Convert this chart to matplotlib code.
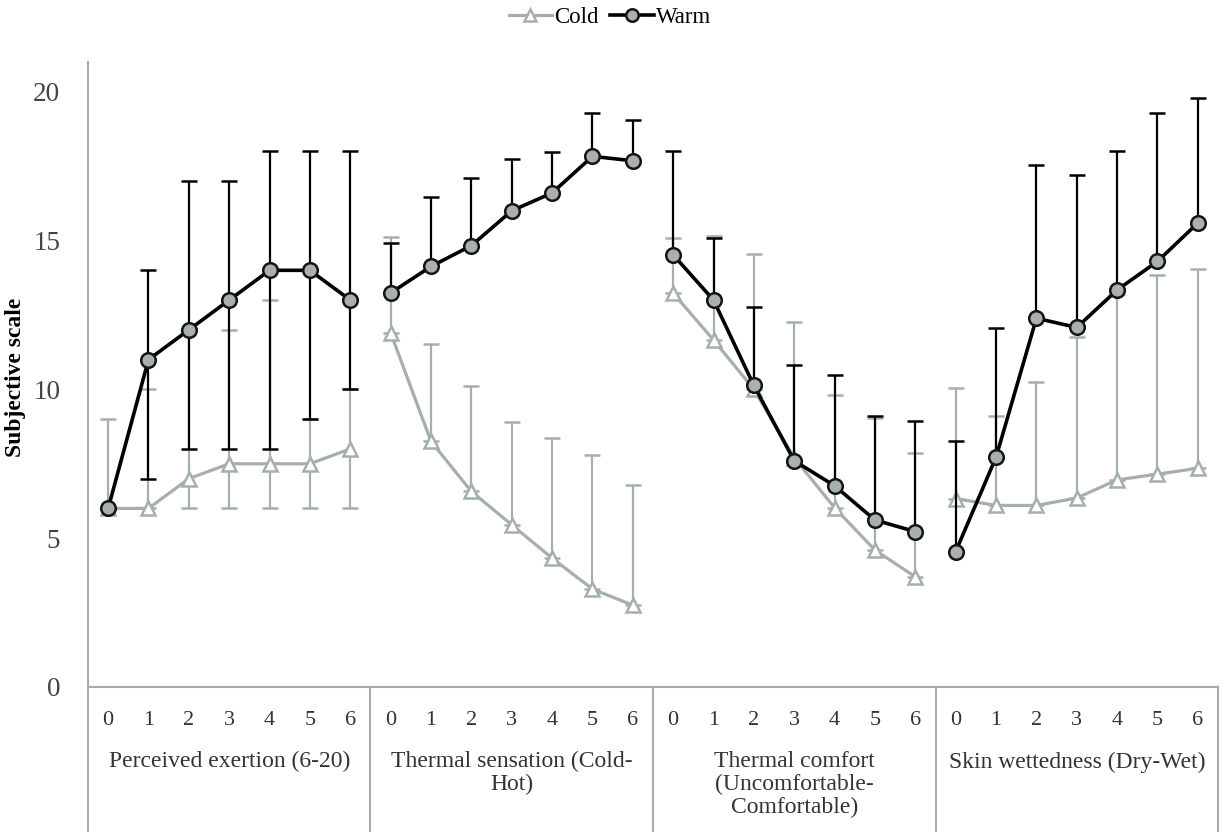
import numpy as np
import matplotlib
matplotlib.use("Agg")
import matplotlib.pyplot as plt
import matplotlib.transforms as mtransforms
from matplotlib.lines import Line2D

plt.rcParams['font.family'] = ['Liberation Serif', 'DejaVu Serif']

time_labels = ["0", "1", "2", "3", "4", "5", "6"]
group_labels = ["Perceived exertion (6-20)",
                "Thermal sensation (Cold-\nHot)",
                "Thermal comfort\n(Uncomfortable-\nComfortable)",
                "Skin wettedness (Dry-Wet)"]

# Perceived exertion
pe_cold = [6, 6, 7, 7.5, 7.5, 7.5, 8]
pe_cold_lo = [6, 6, 6, 6, 6, 6, 6]
pe_cold_hi = [9, 10, 12, 12, 13, 9, 10]
pe_warm = [6, 11, 12, 13, 14, 14, 13]
pe_warm_lo = [6, 7, 8, 8, 8, 9, 10]
pe_warm_hi = [6, 14, 17, 17, 18, 18, 18]

# Thermal sensation
ts_cold = [11.9, 8.25, 6.57, 5.45, 4.33, 3.29, 2.75]
ts_cold_hi = [15.12, 11.53, 10.1, 8.92, 8.38, 7.8, 6.79]
ts_warm = [13.24, 14.13, 14.83, 16.0, 16.6, 17.83, 17.68]
ts_warm_hi = [14.91, 16.45, 17.1, 17.75, 17.97, 19.28, 19.06]

# Thermal comfort
tc_cold = [13.23, 11.66, 10.0, 7.7, 6.02, 4.6, 3.7]
tc_cold_hi = [15.1, 15.15, 14.54, 12.25, 9.8, 9.05, 7.87]
tc_warm = [14.52, 13.0, 10.13, 7.6, 6.76, 5.61, 5.22]
tc_warm_hi = [18.0, 15.1, 12.76, 10.82, 10.49, 9.09, 8.95]

# Skin wettedness
sw_cold = [6.33, 6.1, 6.1, 6.35, 6.96, 7.15, 7.35]
sw_cold_hi = [10.04, 9.11, 10.26, 11.76, 13.2, 13.85, 14.05]
sw_warm = [4.55, 7.72, 12.39, 12.08, 13.34, 14.3, 15.59]
sw_warm_hi = [8.25, 12.06, 17.55, 17.19, 18.02, 19.3, 19.79]

cold_groups = [(pe_cold, pe_cold_lo, pe_cold_hi), (ts_cold, None, ts_cold_hi),
               (tc_cold, None, tc_cold_hi), (sw_cold, None, sw_cold_hi)]
warm_groups = [(pe_warm, pe_warm_lo, pe_warm_hi), (ts_warm, None, ts_warm_hi),
               (tc_warm, None, tc_warm_hi), (sw_warm, None, sw_warm_hi)]

GRAY = '#A5AFAF'
AXGRAY = '#A3ADAD'
FILL = '#A9B1B0'

fig = plt.figure(figsize=(12.25, 8.32), dpi=100)
ax = fig.add_axes([0.0718, 0.1743, 0.9225, 0.7512])

n = len(time_labels)
for g in range(4):
    x = np.arange(n) + g * n
    for (vals, lo, hi), color, mk, lw, elw, z, mfc, mec, ms in [
        (cold_groups[g], GRAY, '^', 2.3, 1.6, 2, 'white', GRAY, 10.5),
        (warm_groups[g], 'black', 'o', 2.6, 1.6, 3, FILL, '#151515', 10.5)]:
        v = np.array(vals, dtype=float)
        hi_err = np.array(hi) - v
        lo_err = (v - np.array(lo)) if lo is not None else np.zeros_like(v)
        ax.errorbar(x, v, yerr=[lo_err, hi_err], color=color, ecolor=color,
                    elinewidth=elw, capsize=5.5, capthick=elw, lw=lw,
                    marker=mk, ms=ms, mfc=mfc, mec=mec, mew=1.8, zorder=z)

ax.set_xlim(-0.5, 4 * n - 0.5)
ax.set_ylim(0, 21)
ax.set_yticks([0, 5, 10, 15, 20])
ax.set_xticks(np.arange(4 * n))
ax.set_xticklabels(time_labels * 4)
ax.tick_params(axis='x', length=0, pad=17, labelsize=16, labelcolor='#333333')
ax.tick_params(axis='y', length=0, pad=20, labelsize=19.5, labelcolor='#444444')
for s in ['top', 'right']:
    ax.spines[s].set_visible(False)
for s in ['left', 'bottom']:
    ax.spines[s].set_color(AXGRAY)
    ax.spines[s].set_linewidth(1.5)

trans = mtransforms.blended_transform_factory(ax.transData, ax.transAxes)
for xb in [-0.5, n - 0.5, 2 * n - 0.5, 3 * n - 0.5, 4 * n - 0.5]:
    ax.add_line(Line2D([xb, xb], [0, -0.235], transform=trans, color=AXGRAY,
                       lw=1.5, clip_on=False))
for g, lab in enumerate(group_labels):
    ax.text(g * n + (n - 1) / 2, -0.103, lab, transform=trans, ha='center',
            va='top', fontsize=17, color='#333333', linespacing=1.1)

fig.text(16 / 1225, 0.547, 'Subjective scale', rotation=90, ha='center',
         va='center', fontsize=17, fontweight='bold')

handles = [Line2D([], [], color=GRAY, lw=2.3, marker='^', ms=9, mfc='white',
                  mec=GRAY, mew=1.8),
           Line2D([], [], color='black', lw=2.6, marker='o', ms=9, mfc=FILL,
                  mec='#151515', mew=1.8)]
fig.legend(handles, ['Cold', 'Warm'], loc='center', bbox_to_anchor=(0.498, 0.979),
           ncol=2, frameon=False, fontsize=16.5, handlelength=1.9,
           handletextpad=0.1, columnspacing=0.5)

fig.savefig('out.png', dpi=100)
